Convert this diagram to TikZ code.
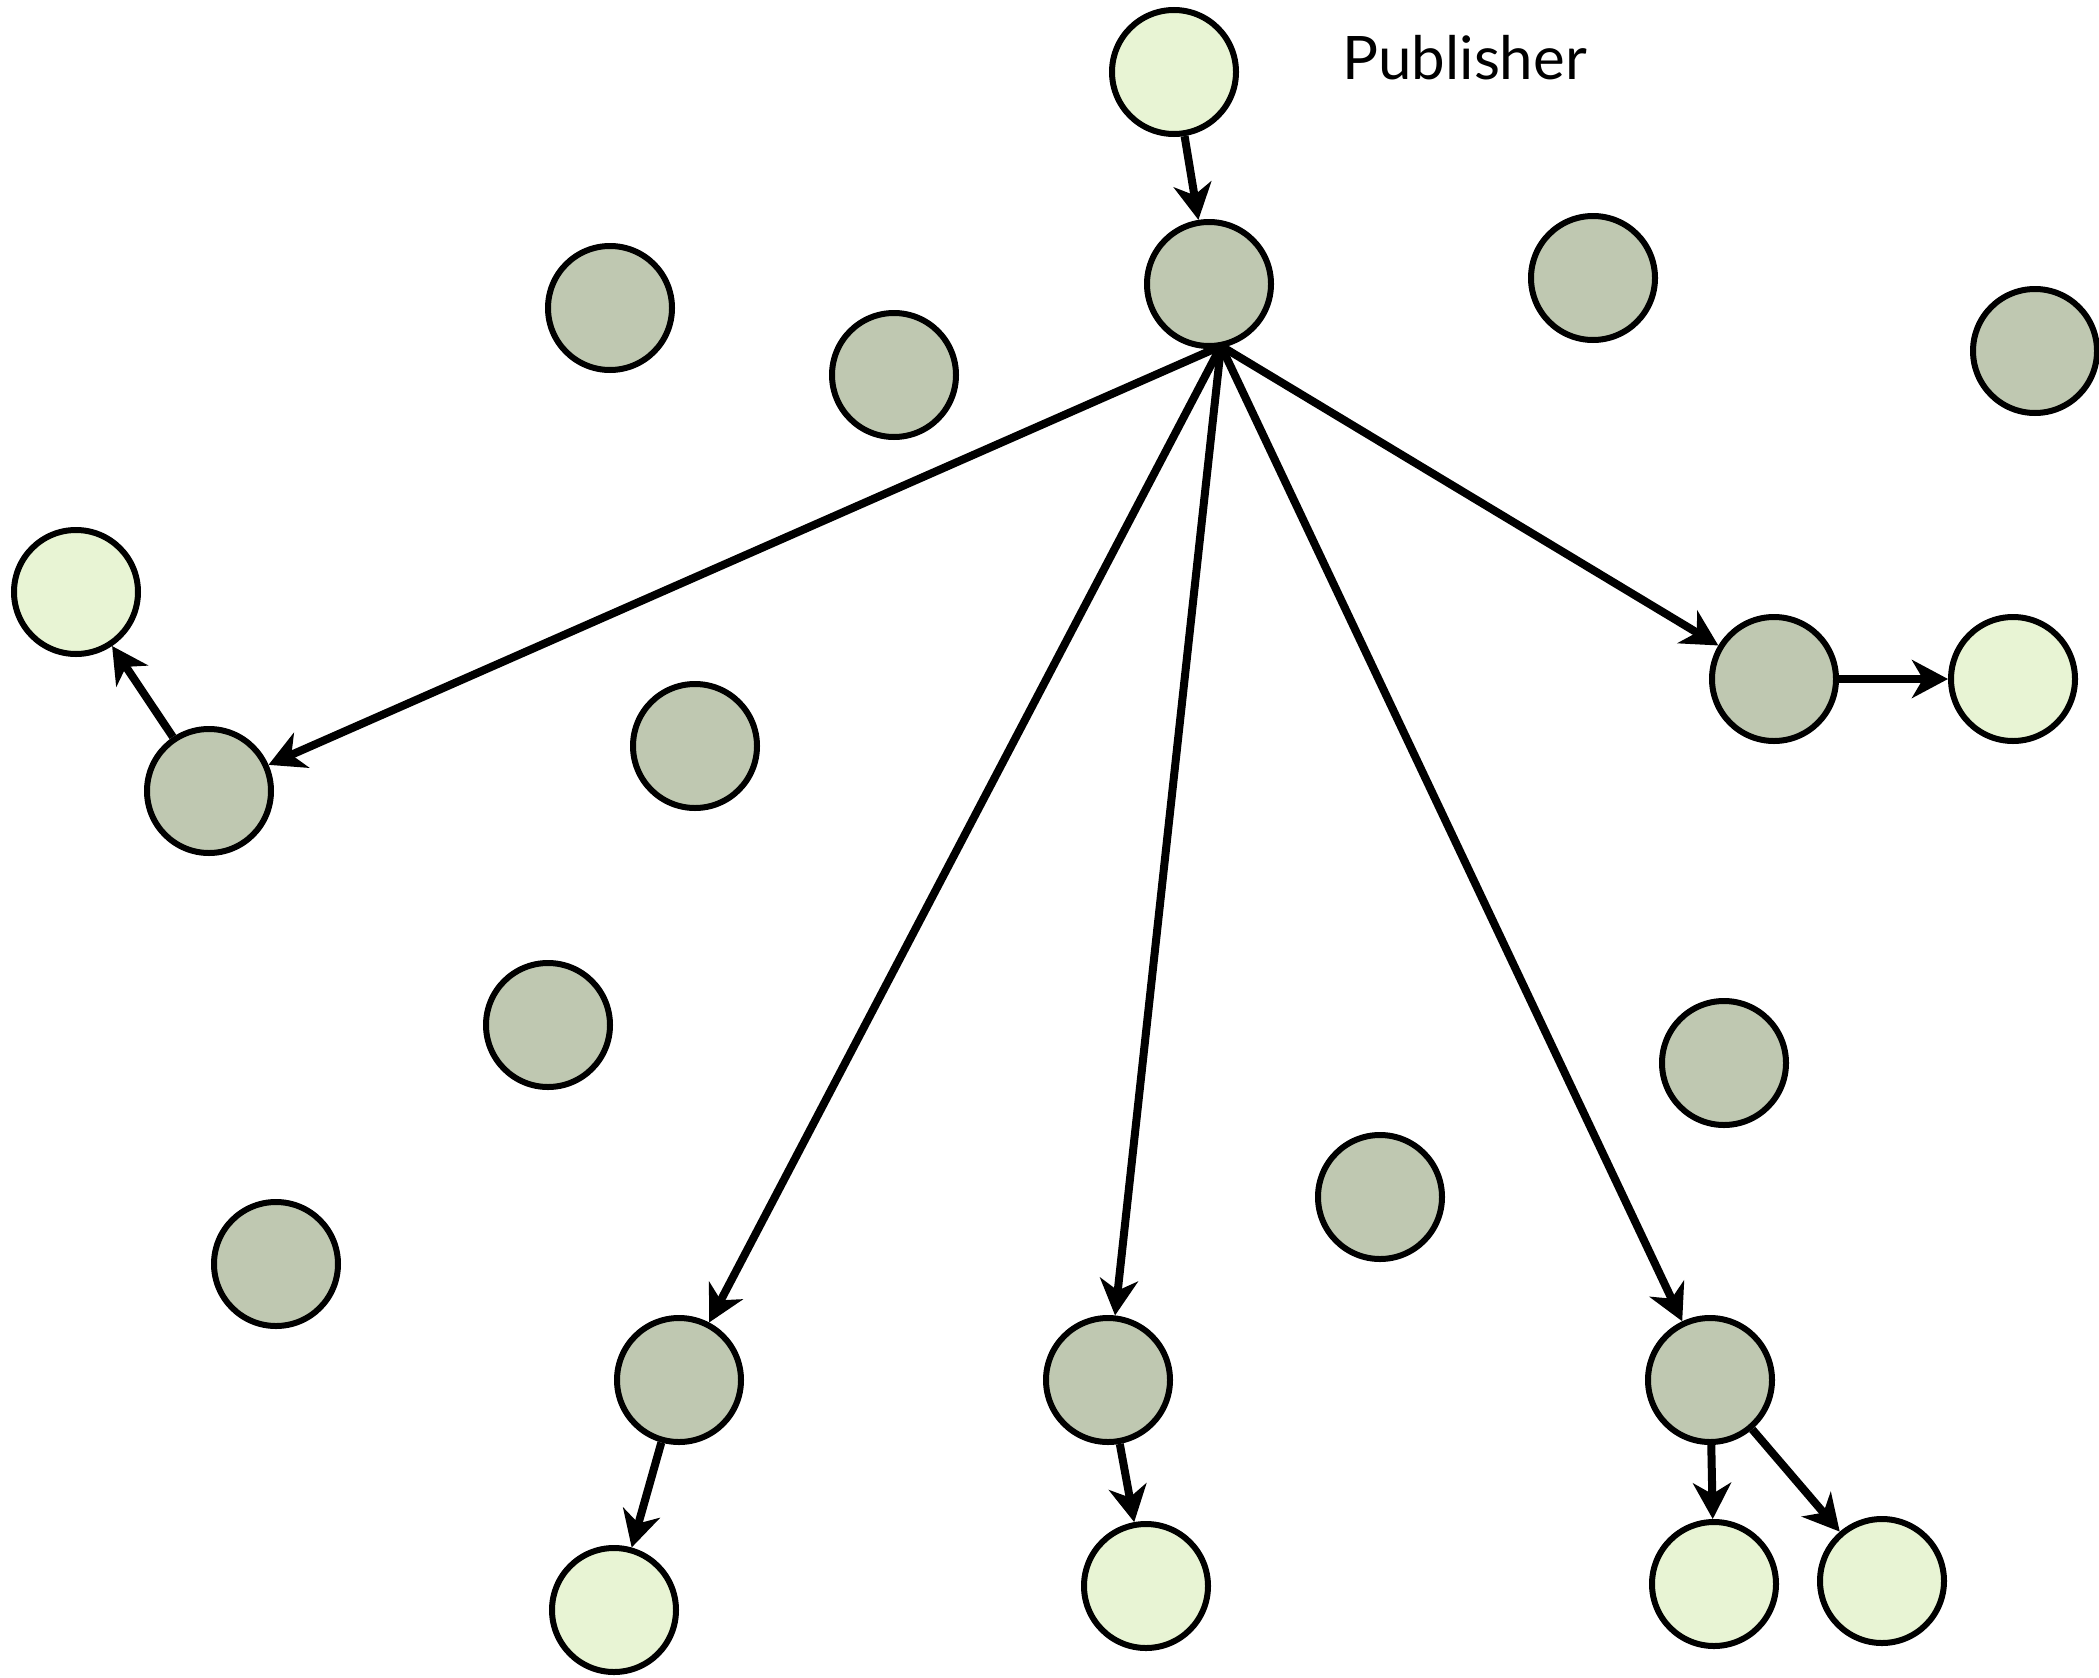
\documentclass[tikz,border=0pt]{standalone}
\usepackage{fontspec}
\setmainfont{Lato}
\usetikzlibrary{arrows.meta}
\definecolor{peer}{HTML}{BFC8B1}
\definecolor{sub}{HTML}{E8F4D4}
\begin{document}
\begin{tikzpicture}[x=1pt,y=-1pt,
  node/.style={circle,draw=black,line width=6pt,minimum size=124pt,inner sep=0pt},
  peernode/.style={node,fill=peer},
  subnode/.style={node,fill=sub},
  link/.style={line width=8pt,-{Stealth[length=36pt,width=38pt,inset=11pt]}}]
\useasboundingbox (0,0) rectangle (2099,1678);
% publisher and the hub it feeds
\node[subnode] (pub) at (1174,72) {};
\node[anchor=base west,font=\fontsize{60}{70}\selectfont] (label) at (1339,80) {Publisher};
\node[peernode] (hub) at (1209,284) {};
% uninvolved peers
\node[peernode] (p1) at (610,308) {};
\node[peernode] (p2) at (894,375) {};
\node[peernode] (p3) at (1593,278) {};
\node[peernode] (p4) at (2035,351) {};
\node[peernode] (p5) at (695,746) {};
\node[peernode] (p6) at (548,1025) {};
\node[peernode] (p7) at (1724,1063) {};
\node[peernode] (p8) at (1380,1197) {};
\node[peernode] (p9) at (276,1264) {};
% relay peers
\node[peernode] (rl) at (209,791) {};
\node[peernode] (rr) at (1774,679) {};
\node[peernode] (rb1) at (679,1380) {};
\node[peernode] (rb2) at (1108,1380) {};
\node[peernode] (rb3) at (1710,1380) {};
% subscribers
\node[subnode] (sl) at (76,592) {};
\node[subnode] (sr) at (2013,679) {};
\node[subnode] (sb1) at (614,1610) {};
\node[subnode] (sb2) at (1146,1586) {};
\node[subnode] (sb3) at (1714,1584) {};
\node[subnode] (sb4) at (1882,1581) {};
% message flow
\coordinate (fan) at ([xshift=12pt,yshift=3pt]hub.south);
\draw[link] (pub) -- (hub);
\draw[link] (fan) -- (rl);
\draw[link] (fan) -- (rb1);
\draw[link] (fan) -- (rb2);
\draw[link] (fan) -- (rb3);
\draw[link] (fan) -- (rr);
\draw[link] (rl) -- (sl);
\draw[link] (rr.east) -- (sr);
\draw[link] (rb1) -- (sb1);
\draw[link] (rb2) -- (sb2);
\draw[link] (rb3) -- (sb3);
\draw[link] (rb3) -- (sb4);
\end{tikzpicture}
\end{document}
